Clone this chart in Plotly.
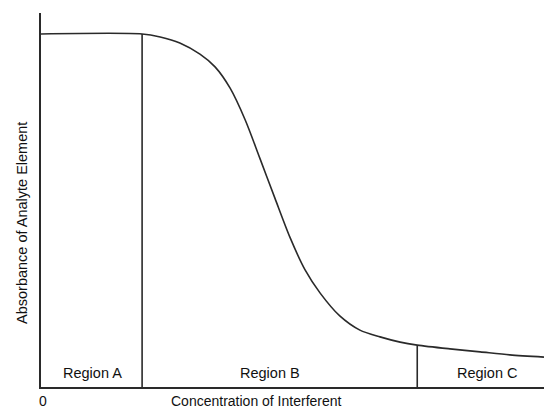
import numpy as np
import plotly.graph_objects as go

# Conceptual data (arbitrary units, 0-100 scale)
conc = [0, 20.1, 23.7, 27.6, 31.6, 34.6, 37.6, 40.6, 43.5, 46.5, 49.5, 52.5,
        55.5, 59.4, 63.4, 67.4, 71.4, 74.8, 81.3, 87.3, 93.2, 100]
absorbance = [94.4, 94.4, 93.6, 92.0, 89.0, 85.6, 79.9, 71.4, 61.2, 50.5, 40.0, 31.3,
              25.1, 19.0, 15.2, 13.4, 12.0, 11.2, 10.2, 9.4, 8.6, 8.0]
boundaries = [20.1, 74.8]
region_labels = ["Region A", "Region B", "Region C"]
region_label_x = [10.3, 45.5, 88.7]

FONT = "Liberation Sans, Arial, sans-serif"
LINE = "#2a2a2a"

fig = go.Figure()
fig.add_trace(go.Scatter(x=conc, y=absorbance, mode="lines",
                         line=dict(color=LINE, width=1.6, shape="spline", smoothing=0.8),
                         hoverinfo="skip", showlegend=False))
for b in boundaries:
    yb = float(np.interp(b, conc, absorbance))
    fig.add_trace(go.Scatter(x=[b, b], y=[0, yb], mode="lines",
                             line=dict(color=LINE, width=1.6),
                             hoverinfo="skip", showlegend=False))

for lab, lx in zip(region_labels, region_label_x):
    fig.add_annotation(x=lx, y=3.7, text=lab, showarrow=False,
                       xref="x", yref="y", xanchor="center", yanchor="middle",
                       font=dict(family=FONT, size=14.5, color="#111"))

fig.add_annotation(x=0.4, y=-(401 - 387) / 374, text="0", showarrow=False, xref="x", yref="paper",
                   xanchor="center", yanchor="middle",
                   font=dict(family=FONT, size=14, color="#111"))
fig.add_annotation(x=(256 - 41) / 503, y=-(401 - 387) / 374, text="Concentration of Interferent",
                   showarrow=False, xref="paper", yref="paper",
                   xanchor="center", yanchor="middle",
                   font=dict(family=FONT, size=14, color="#111"))
fig.add_annotation(x=-(41 - 22) / 503, y=(387 - 223) / 374, text="Absorbance of Analyte Element",
                   textangle=-90, showarrow=False, xref="paper", yref="paper",
                   xanchor="center", yanchor="middle",
                   font=dict(family=FONT, size=14.5, color="#111"))

fig.update_xaxes(range=[0, 100], showline=True, linecolor=LINE, linewidth=1.6,
                 showgrid=False, zeroline=False, showticklabels=False, ticks="")
fig.update_yaxes(range=[0, 100], showline=True, linecolor=LINE, linewidth=1.6,
                 showgrid=False, zeroline=False, showticklabels=False, ticks="")
fig.update_layout(width=544, height=410, margin=dict(l=41, r=0, t=13, b=23),
                  paper_bgcolor="white", plot_bgcolor="white")
fig.write_html("out.html", config={"displayModeBar": False},
               post_script="document.body.style.margin='0';document.body.style.overflow='hidden';")
